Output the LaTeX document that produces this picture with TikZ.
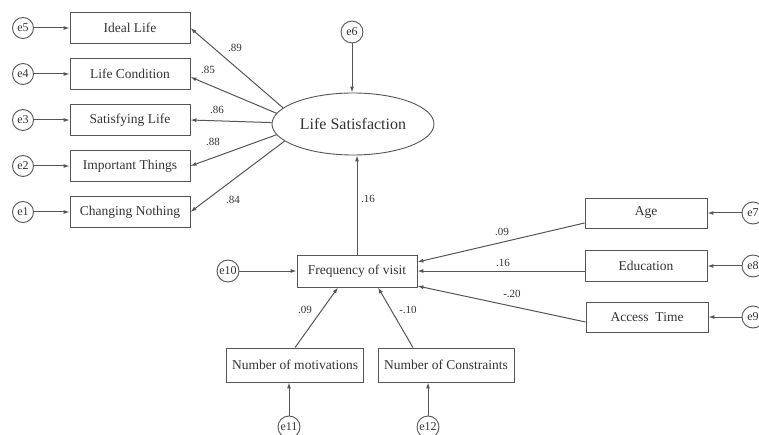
\documentclass[tikz,border=0pt]{standalone}
\usepackage{fontspec}
\setmainfont{Liberation Serif}
\usetikzlibrary{arrows.meta,shapes.geometric}
\definecolor{ln}{HTML}{555555}
\definecolor{tx}{HTML}{333333}
\begin{document}
\begin{tikzpicture}[x=1pt,y=-1pt,
  box/.style={draw=ln,line width=0.9pt,rectangle,minimum width=120pt,minimum height=31pt,inner sep=0pt,text=tx,font=\fontsize{13.5}{15}\selectfont},
  err/.style={draw=ln,line width=0.9pt,circle,minimum size=21pt,inner sep=0pt,text=tx,font=\fontsize{12}{14}\selectfont},
  arr/.style={draw=ln,line width=1pt,-{Latex[length=6pt,width=4pt]}},
  lab/.style={text=tx,font=\fontsize{11}{13}\selectfont,inner sep=1pt}]
\useasboundingbox (0,0) rectangle (759,435);
\clip (0,0) rectangle (759,435);
% left indicators
\node[box] (il) at (130,28) {Ideal Life};
\node[box] (lc) at (130,74) {Life Condition};
\node[box] (sl) at (130,120) {Satisfying Life};
\node[box] (it) at (130,166) {Important Things};
\node[box] (cn) at (130,212) {Changing Nothing};
\node[err] (e5) at (23,28) {e5};
\node[err] (e4) at (23,74) {e4};
\node[err] (e3) at (23,120) {e3};
\node[err] (e2) at (23,166) {e2};
\node[err] (e1) at (23,212) {e1};
% latent
\node[draw=ln,line width=0.9pt,ellipse,minimum width=162pt,minimum height=62pt,inner sep=0pt,text=tx,font=\fontsize{16}{18}\selectfont] (ls) at (353,124) {Life Satisfaction};
\node[err,minimum size=22pt] (e6) at (352,32) {e6};
% frequency
\node[box,minimum width=120pt,minimum height=32pt] (fv) at (357,271) {Frequency of visit};
\node[err,minimum size=22pt] (e10) at (228,271) {e10};
\node[box,minimum width=137pt,minimum height=34pt] (nm) at (295,365) {Number of motivations};
\node[box,minimum width=136pt,minimum height=34pt] (nc) at (446,365) {Number of Constraints};
\node[err,minimum size=22pt] (e11) at (289,427) {e11};
\node[err,minimum size=22pt] (e12) at (428,427) {e12};
% right
\node[box,minimum width=122pt,minimum height=30pt] (ag) at (646,213) {Age};
\node[box,minimum width=122pt,minimum height=31pt] (ed) at (646,266) {Education};
\node[box,minimum width=122pt,minimum height=30pt] (at) at (647,317) {Access\ \ Time};
\node[err,minimum size=22pt] (e7) at (753,213) {e7};
\node[err,minimum size=22pt] (e8) at (753,266) {e8};
\node[err,minimum size=22pt] (e9) at (753,317) {e9};
% error arrows
\foreach \e/\b in {e5/il,e4/lc,e3/sl,e2/it,e1/cn} \draw[arr] (\e) -- (\b);
\draw[arr] (e6) -- (e6 |- ls.north);
\draw[arr] (e10) -- (fv);
\draw[arr] (e11) -- (e11 |- nm.south);
\draw[arr] (e12) -- (e12 |- nc.south);
\draw[arr] (e7) -- (ag);
\draw[arr] (e8) -- (ed);
\draw[arr] (e9) -- (at);
% loadings
\draw[arr] (ls.167) -- (il.east);
\draw[arr] (ls.172) -- ([yshift=-3pt]lc.east);
\draw[arr] (ls.179) -- (sl.east);
\draw[arr] (ls.188) -- (it.east);
\draw[arr] (ls.194) -- (cn.east);
\node[lab] at (235,48) {.89};
\node[lab] at (208,70) {.85};
\node[lab] at (217,110) {.86};
\node[lab] at (213,142) {.88};
\node[lab] at (233,200) {.84};
% structural
\draw[arr] (fv.north) -- (fv.north |- ls.south);
\node[lab] at (368,199) {.16};
\draw[arr] ([yshift=-10pt]ag.west) -- ([yshift=9pt]fv.east);
\draw[arr] (ed.west |- fv.east) -- (fv.east);
\draw[arr] ([yshift=-5pt]at.west) -- ([yshift=-15pt]fv.east);
\node[lab] at (502,232) {.09};
\node[lab] at (503,263) {.16};
\node[lab] at (512,294) {-.20};
\draw[arr] (nm.north) -- ([xshift=-19pt]fv.south);
\draw[arr] ([xshift=-33pt]nc.north) -- ([xshift=21pt]fv.south);
\node[lab] at (305,310) {.09};
\node[lab] at (408,310) {-.10};
\end{tikzpicture}
\end{document}
